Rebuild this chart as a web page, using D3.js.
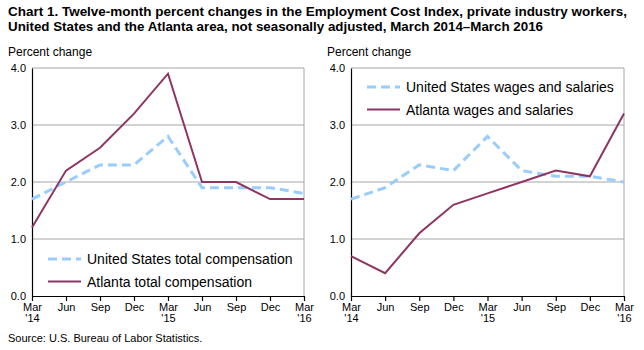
<!DOCTYPE html>
<html><head><meta charset="utf-8">
<script src="https://cdn.jsdelivr.net/npm/d3@7"></script>
<style>body{margin:0;background:#fff}svg{display:block}text{font-family:"Liberation Sans",Arial,sans-serif}</style>
</head><body><svg id="c" width="644" height="350"></svg>
<script>
const months = ["Mar","Jun","Sep","Dec","Mar","Jun","Sep","Dec","Mar"];
const years = ["'14","","","","'15","","","","'16"];
const yTicks = [0,1,2,3,4];
const usTotal = [1.7,2.0,2.3,2.3,2.8,1.9,1.9,1.9,1.8];
const atlTotal = [1.2,2.2,2.6,3.2,3.9,2.0,2.0,1.7,1.7];
const usWages = [1.7,1.9,2.3,2.2,2.8,2.2,2.1,2.1,2.0];
const atlWages = [0.7,0.4,1.1,1.6,1.8,2.0,2.2,2.1,3.2];

const svg = d3.select("#c");
const purple = "#8E3563", blue = "#99CCFF";

svg.append("text").attr("x",8).attr("y",16).attr("font-size",13).attr("font-weight","bold")
  .attr("textLength",619).attr("lengthAdjust","spacingAndGlyphs")
  .text("Chart 1. Twelve-month percent changes in the Employment Cost  Index, private industry  workers,");
svg.append("text").attr("x",8).attr("y",31).attr("font-size",13).attr("font-weight","bold")
  .attr("textLength",535).attr("lengthAdjust","spacingAndGlyphs")
  .text("United States and the Atlanta area, not seasonally adjusted, March 2014–March  2016");
svg.append("text").attr("x",8).attr("y",342).attr("font-size",11).text("Source: U.S. Bureau of Labor Statistics.");

function panel(x0, x1, series, legend, legY, legX) {
  const x = d3.scalePoint().domain(d3.range(months.length)).range([x0, x1]);
  const y = d3.scaleLinear().domain([0,4]).range([296,68]);
  const g = svg.append("g");
  g.append("text").attr("x",x0-24).attr("y",56).attr("font-size",12).text("Percent change");
  g.selectAll(".grid").data(yTicks.slice(1)).join("line")
    .attr("x1",x0).attr("x2",x1).attr("y1",d=>y(d)).attr("y2",d=>y(d))
    .attr("stroke","#A6A6A6").attr("stroke-width",1);
  g.append("line").attr("x1",x1).attr("x2",x1).attr("y1",y(4)).attr("y2",y(0)).attr("stroke","#A6A6A6");
  const ya = g.append("g").attr("transform",`translate(${x0},0)`)
    .call(d3.axisLeft(y).tickValues(yTicks).tickFormat(d3.format(".1f")).tickSize(0).tickPadding(6));
  ya.select(".domain").attr("stroke","#000").attr("stroke-width",1.2);
  ya.selectAll("text").attr("font-size",11).attr("font-family","Liberation Sans, Arial, sans-serif").attr("fill","#000");
  const xa = g.append("g").attr("transform",`translate(0,${y(0)})`)
    .call(d3.axisBottom(x).tickSize(5).tickSizeOuter(0).tickFormat(i=>months[i]));
  xa.select(".domain").attr("stroke","#000").attr("stroke-width",1.2);
  xa.selectAll("line").attr("stroke","#000").attr("stroke-width",1.2);
  xa.selectAll("text").attr("font-size",11).attr("font-family","Liberation Sans, Arial, sans-serif").attr("fill","#000").attr("dy","0.65em");
  xa.selectAll(".tick").append("text").attr("y",19).attr("dy","0.65em").attr("fill","#000")
    .attr("font-size",11).attr("text-anchor","middle").text(i=>years[i]);
  const line = d3.line().x((d,i)=>x(i)).y(d=>y(d));
  g.append("path").datum(series[0]).attr("d",line).attr("fill","none").attr("stroke",blue)
    .attr("stroke-width",3).attr("stroke-dasharray","9,5");
  g.append("path").datum(series[1]).attr("d",line).attr("fill","none").attr("stroke",purple)
    .attr("stroke-width",2);
  const cols=[blue,purple];
  legend.forEach((t,i)=>{
    const ly = legY + i*22.5;
    const l = g.append("line").attr("x1",legX).attr("x2",legX+33).attr("y1",ly).attr("y2",ly).attr("stroke",cols[i]);
    if(i==0) l.attr("stroke-width",3).attr("stroke-dasharray","9,5"); else l.attr("stroke-width",2);
    g.append("text").attr("x",legX+39).attr("y",ly+5).attr("font-size",14).text(t);
  });
}
panel(32, 304, [usTotal, atlTotal], ["United States total compensation","Atlanta total compensation"], 259, 48);
panel(351, 624, [usWages, atlWages], ["United States wages and salaries","Atlanta wages and salaries"], 87, 367);
</script></body></html>
